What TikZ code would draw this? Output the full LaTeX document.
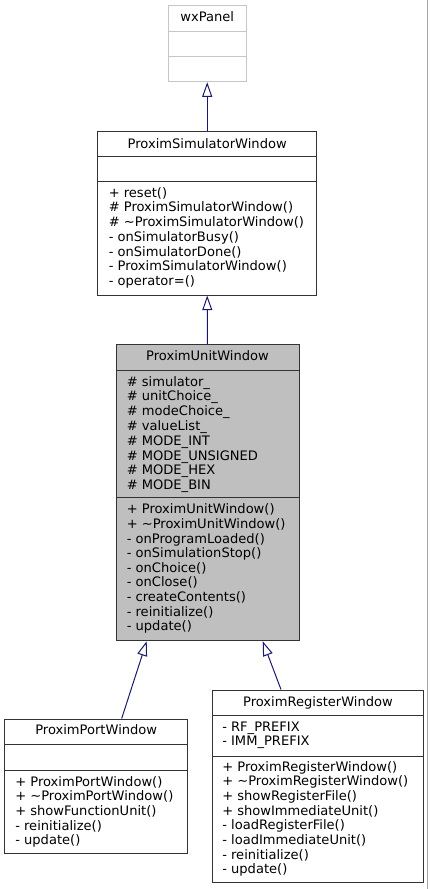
\documentclass[tikz,border=0pt]{standalone}
\usepackage{fontspec}
\setmainfont{DejaVu Sans}
\usetikzlibrary{positioning,arrows.meta}
\definecolor{edgeblue}{HTML}{191970}
\definecolor{shadegray}{HTML}{BFBFBF}
\definecolor{linegray}{HTML}{333333}
\tikzstyle{classbox} = [rectangle, draw=linegray, line width=0.75pt, inner sep=0pt]
\tikzstyle{classname} = [font=\fontsize{9.8}{11}\selectfont, inner sep=0pt, anchor=base]
\tikzstyle{member} = [font=\fontsize{9.8}{11}\selectfont, inner sep=0pt, anchor=base west]
\tikzstyle{divider} = [draw=linegray, line width=0.75pt]
\tikzstyle{derive} = [draw=edgeblue, line width=0.75pt, -{Triangle[open,length=11pt,width=7.5pt]}]

\begin{document}
\begin{tikzpicture}[x=0.75pt,y=-0.75pt]
			\useasboundingbox (0,0) rectangle (429,889);
			\draw[gray!70, line width=0.75pt] (427.5,0) -- (427.5,889);
			%-----------------------------------------------
			\node (wxp) [classbox, draw=gray!45, minimum width=58.3pt, minimum height=57.5pt] at (207.2,43.35) {};
			\node (wxp-name) [classname] at (207.2,21.8) {wxPanel};
			\draw [divider, draw=gray!45] (wxp.west |- 0,31.7) -- (wxp.east |- 0,31.7);
			\draw [divider, draw=gray!45] (wxp.west |- 0,56.7) -- (wxp.east |- 0,56.7);
			%-----------------------------------------------
			\node (psw) [classbox, minimum width=164.25pt, minimum height=123pt] at (207.2,213) {};
			\node (psw-name) [classname] at (207.2,148) {ProximSimulatorWindow};
			\draw [divider] (psw.west |- 0,156) -- (psw.east |- 0,156);
			\draw [divider] (psw.west |- 0,181.7) -- (psw.east |- 0,181.7);
			\foreach \m [count=\i from 0] in {+ reset(), \# ProximSimulatorWindow(), \# \textasciitilde ProximSimulatorWindow(), - onSimulatorBusy(), - onSimulatorDone(), - ProximSimulatorWindow(), - operator=()}
				\node (psw-m\i) [member] at (108.5,197.2+\i*14.75) {\m};
			%-----------------------------------------------
			\node (puw) [classbox, fill=shadegray, minimum width=137.25pt, minimum height=221.8pt] at (207.5,492.85) {};
			\node (puw-name) [classname] at (207.5,360.5) {ProximUnitWindow};
			\draw [divider] (puw.west |- 0,370) -- (puw.east |- 0,370);
			\draw [divider] (puw.west |- 0,497.7) -- (puw.east |- 0,497.7);
			\foreach \m [count=\i from 0] in {\# simulator\_, \# unitChoice\_, \# modeChoice\_, \# valueList\_, \# MODE\_INT, \# MODE\_UNSIGNED, \# MODE\_HEX, \# MODE\_BIN}
				\node (puw-a\i) [member] at (126.5,386.2+\i*14.76) {\m};
			\foreach \m [count=\i from 0] in {+ ProximUnitWindow(), + \textasciitilde ProximUnitWindow(), - onProgramLoaded(), - onSimulationStop(), - onChoice(), - onClose(), - createContents(), - reinitialize(), - update()}
				\node (puw-m\i) [member] at (126.5,513.8+\i*14.6) {\m};
			%-----------------------------------------------
			\node (ppw) [classbox, minimum width=137.25pt, minimum height=100.7pt] at (96.2,786.15) {};
			\node (ppw-name) [classname] at (96.2,734.5) {ProximPortWindow};
			\draw [divider] (ppw.west |- 0,744.3) -- (ppw.east |- 0,744.3);
			\draw [divider] (ppw.west |- 0,770) -- (ppw.east |- 0,770);
			\foreach \m [count=\i from 0] in {+ ProximPortWindow(), + \textasciitilde ProximPortWindow(), + showFunctionUnit(), - reinitialize(), - update()}
				\node (ppw-m\i) [member] at (15,786.2+\i*14.6) {\m};
			%-----------------------------------------------
			\node (prw) [classbox, minimum width=158pt, minimum height=144.5pt] at (318,786.35) {};
			\node (prw-name) [classname] at (318,706) {ProximRegisterWindow};
			\draw [divider] (prw.west |- 0,715) -- (prw.east |- 0,715);
			\draw [divider] (prw.west |- 0,756) -- (prw.east |- 0,756);
			\foreach \m [count=\i from 0] in {- RF\_PREFIX, - IMM\_PREFIX}
				\node (prw-a\i) [member] at (222,731.2+\i*14.4) {\m};
			\foreach \m [count=\i from 0] in {+ ProximRegisterWindow(), + \textasciitilde ProximRegisterWindow(), + showRegisterFile(), + showImmediateUnit(), - loadRegisterFile(), - loadImmediateUnit(), - reinitialize(), - update()}
				\node (prw-m\i) [member] at (222,771.2+\i*14.66) {\m};
			%-----------------------------------------------
			%-----------------------------------------------
			\draw [derive] (psw.north) -- (wxp.south);
			\draw [derive] (puw.north) -- (psw.south);
			\draw [derive] ([xshift=19.1pt]ppw.north) -- ([xshift=-45.6pt]puw.south);
			\draw [derive] ([xshift=-27.75pt]prw.north) -- ([xshift=41.4pt]puw.south);
\end{tikzpicture}
\end{document}
